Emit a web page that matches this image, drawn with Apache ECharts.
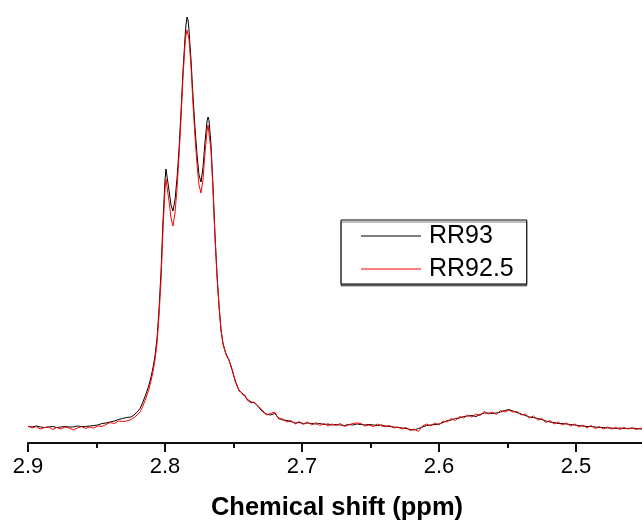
<!DOCTYPE html>
<html>
<head>
<meta charset="utf-8">
<script src="https://cdn.jsdelivr.net/npm/echarts@6/dist/echarts.min.js"></script>
<style>
html,body{margin:0;padding:0;background:#fff;}
#chart{width:642px;height:523px;}
</style>
</head>
<body>
<div id="chart"></div>
<script>
// Chemical shift (ppm) sample positions
var shiftFlatLeft = [2.900,2.897,2.894,2.891,2.888,2.885,2.882,2.879,2.876,2.873,2.870,2.867,2.864,2.861,2.858,2.855,2.852,2.849,2.846,2.843,2.840,2.837,2.834,2.831,2.828];
var shiftPeaks = [2.8270,2.8248,2.8226,2.8204,2.8182,2.8161,2.8139,2.8117,2.8102,2.8088,2.8073,2.8058,2.8044,2.8029,2.8015,2.8000,2.7993,2.7985,2.7971,2.7956,2.7942,2.7927,2.7912,2.7898,2.7883,2.7869,2.7854,2.7847,2.7839,2.7832,2.7825,2.7810,2.7796,2.7781,2.7766,2.7752,2.7737,2.7723,2.7708,2.7693,2.7686,2.7679,2.7664,2.7650,2.7635,2.7620,2.7606,2.7591,2.7577,2.7562,2.7547,2.7533,2.7518,2.7504,2.7489,2.7474,2.7460,2.7445,2.7431,2.7416,2.7401,2.7387,2.7372];
var shiftFlatRight = [2.735,2.732,2.729,2.726,2.723,2.720,2.717,2.714,2.711,2.708,2.705,2.702,2.699,2.696,2.693,2.690,2.687,2.684,2.681,2.678,2.675,2.672,2.669,2.666,2.663,2.660,2.657,2.654,2.651,2.648,2.645,2.642,2.639,2.636,2.633,2.630,2.627,2.624,2.621,2.618,2.615,2.612,2.609,2.606,2.603,2.600,2.597,2.594,2.591,2.588,2.585,2.582,2.579,2.576,2.573,2.570,2.567,2.564,2.561,2.558,2.555,2.552,2.549,2.546,2.543,2.540,2.537,2.534,2.531,2.528,2.525,2.522,2.519,2.516,2.513,2.510,2.507,2.504,2.501,2.498,2.495,2.492,2.489,2.486,2.483,2.480,2.477,2.474,2.471,2.468,2.465,2.462,2.459,2.456,2.453,2.450];

// RR93 intensities (arbitrary units)
var rr93Left = [16.5,16,17,16,15.5,16,16.5,15.5,16,16.5,16,16,17,16.5,16.5,17,17.5,18,19.5,20,21,22,23.5,24.5,25.5];
var rr93Peaks = [25.5,26,28,31,34.5,41,49,58,66,75,87,105,133,171,221,263,274,272,253,238,232,243,265,293,331,371,405,418,426,423,413,383,348,315,288,268,261,275,301,322,326,323,298,258,208,168,138,113,100,92,87,83,77,70,63,57,53,51,49,47,44,42,41];
var rr93Right = [40.5,36.5,31.5,29,28,29.5,25,23,22.5,21.5,20,20.5,19.5,20,19.5,19,19.5,18.5,19,18,18.5,18,17.5,18.5,18,19,18.5,18,18.5,18,17.5,18,17,16.5,16,15.5,15,14.5,13.5,13,14.5,16,17.5,18,18.5,19,20.5,22.5,23,24.5,25,26.5,27,27.5,26.5,28.5,30,30,29.5,30,31,32.5,33.5,32,30.5,29,27.5,26,25.5,24.5,23.5,22,21,20.5,19.5,19.5,19,18.5,18,17.5,17,16.5,16.5,16,15.5,15.5,15,15,14.5,15,14.5,14.5,15,14.5,14,14];

// RR92.5 intensities (arbitrary units)
var rr925Left = [17,15,16.5,14,15.5,16,13.5,15.5,14,16,15,13,15,16.5,14.5,16,15,17,16.5,18.5,20.5,19.5,22,21.5,22];
var rr925Peaks = [22,23.5,25.5,28,31,37,45,54,62,71,83,100,127,163,212,254,264,262,242,225,217,230,255,286,325,365,398,408,413,412,404,376,340,306,278,258,250,263,290,312,318,316,292,254,205,166,137,113,99,92,86,83,76,71,62,58,52,51,48,48,43,43,40];
var rr925Right = [41,37,33,28,29.5,31,24,24,21,22.5,19,21.5,18.5,21,18,20.5,17.5,19.5,17,19,17.5,19.5,16.5,18,19.5,20,19.5,17,18,16.5,19,17,16.5,17.5,15,16,14,15.5,12.5,14,11.5,17,19,17,20,18,22,21,24.5,22.5,26.5,25,28,26,29,27.5,31.5,29,31,28.5,32.5,31,33,31,31.5,28,29,25,27,23,24.5,20.5,22.5,19,21,18,20,17,19,16,18,15,17.5,14.5,16.5,14,16,14,15.5,13.5,15.5,14,15,13.5,15,13];

var xTicks = [2.9, 2.8, 2.7, 2.6, 2.5];
var seriesNames = ['RR93', 'RR92.5'];
var axisTitle = 'Chemical shift (ppm)';

function pairs(xs, ys) {
  var out = [];
  for (var i = 0; i < xs.length; i++) out.push([xs[i], ys[i]]);
  return out;
}
var shifts = shiftFlatLeft.concat(shiftPeaks, shiftFlatRight);
var rr93 = pairs(shifts, rr93Left.concat(rr93Peaks, rr93Right));
var rr925 = pairs(shifts, rr925Left.concat(rr925Peaks, rr925Right));

var FONT = '"Liberation Sans", Arial, sans-serif';
var chart = echarts.init(document.getElementById('chart'), null, {renderer: 'canvas'});
chart.setOption({
  animation: false,
  backgroundColor: '#fff',
  grid: {left: 28, top: 0, width: 685, height: 443, containLabel: false, outerBoundsMode: 'none'},
  xAxis: {
    type: 'value', inverse: true, min: 2.4, max: 2.9, interval: 0.1,
    axisLine: {show: true, lineStyle: {color: '#111', width: 2}},
    axisTick: {show: true, length: 9, lineStyle: {color: '#111', width: 2}},
    minorTick: {show: true, splitNumber: 2, length: 5, lineStyle: {color: '#111', width: 2}},
    splitLine: {show: false},
    axisLabel: {
      margin: 13, fontSize: 22, color: '#000', fontFamily: FONT, hideOverlap: false,
      formatter: function (v) {
        for (var i = 0; i < xTicks.length; i++) if (Math.abs(v - xTicks[i]) < 1e-6) return xTicks[i].toFixed(1);
        return '';
      }
    }
  },
  yAxis: {type: 'value', min: 0, max: 443, show: false},
  legend: {
    orient: 'vertical', left: 341, top: 220,
    data: seriesNames,
    icon: 'rect', itemWidth: 60, itemHeight: 1, itemGap: 5,
    padding: [2, 13, 1, 20],
    borderColor: '#000', borderWidth: 1, backgroundColor: '#fff',
    shadowColor: 'rgba(0,0,0,0.5)', shadowOffsetX: 0, shadowOffsetY: 2, shadowBlur: 0,
    selectedMode: false,
    textStyle: {fontSize: 25, lineHeight: 28, color: '#000', fontFamily: FONT, padding: [0, 0, 0, 3]}
  },
  graphic: [{
    type: 'text', x: 337, y: 508,
    style: {text: axisTitle, font: 'bold 25.5px ' + FONT, fill: '#000', textAlign: 'center', textVerticalAlign: 'middle'}
  }],
  series: [
    {name: seriesNames[0], type: 'line', data: rr93, showSymbol: false, silent: true,
     lineStyle: {color: '#000', width: 1}, itemStyle: {color: '#000'}},
    {name: seriesNames[1], type: 'line', data: rr925, showSymbol: false, silent: true,
     lineStyle: {color: '#ff0000', width: 1}, itemStyle: {color: '#ff0000'}}
  ]
});
</script>
</body>
</html>
